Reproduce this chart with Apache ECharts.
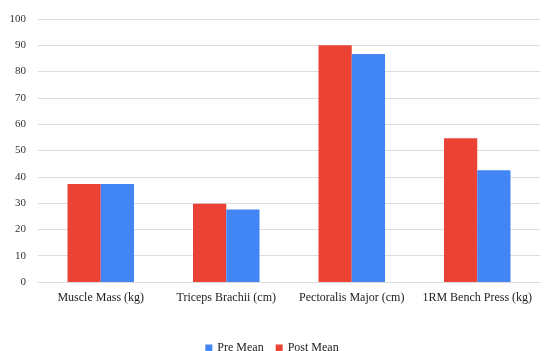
<!DOCTYPE html>
<html>
<head>
<meta charset="utf-8">
<script src="https://cdn.jsdelivr.net/npm/echarts@6/dist/echarts.min.js"></script>
<style>
  html, body { margin: 0; padding: 0; background: #fff; }
  #chart { width: 544px; height: 351px; }
</style>
</head>
<body>
<div id="chart"></div>
<script>
  // data
  var categories = ['Muscle Mass (kg)', 'Triceps Brachii (cm)', 'Pectoralis Major (cm)', '1RM Bench Press (kg)'];
  var postMean = [37.3, 29.8, 90, 54.7];
  var preMean = [37.3, 27.6, 86.7, 42.5];
  var yTicks = { min: 0, max: 100, interval: 10 };

  var font = '"Liberation Serif", "Times New Roman", serif';
  var chart = echarts.init(document.getElementById('chart'));
  chart.setOption({
    animation: false,
    textStyle: { fontFamily: font },
    grid: { left: 38, right: 4, top: 19, bottom: 69 },
    legend: {
      data: ['Pre Mean', 'Post Mean'],
      top: 337,
      left: 'center',
      itemWidth: 7,
      itemHeight: 7,
      itemGap: 12,
      icon: 'rect',
      textStyle: { fontFamily: font, fontSize: 12, color: '#222' }
    },
    xAxis: {
      type: 'category',
      data: categories,
      axisTick: { show: false },
      axisLine: { lineStyle: { color: '#ddd', width: 1 } },
      axisLabel: { interval: 0, fontFamily: font, fontSize: 12, color: '#222', margin: 10 }
    },
    yAxis: {
      type: 'value',
      min: yTicks.min,
      max: yTicks.max,
      interval: yTicks.interval,
      axisLine: { show: false },
      axisTick: { show: false },
      splitLine: { lineStyle: { color: '#ddd', width: 1 } },
      axisLabel: { fontFamily: font, fontSize: 11, color: '#333', margin: 12 }
    },
    series: [
      {
        name: 'Post Mean',
        type: 'bar',
        data: postMean,
        barGap: '0%',
        barCategoryGap: '47%',
        itemStyle: { color: '#EA4335' }
      },
      {
        name: 'Pre Mean',
        type: 'bar',
        data: preMean,
        itemStyle: { color: '#4285F4' }
      }
    ]
  });
</script>
</body>
</html>
